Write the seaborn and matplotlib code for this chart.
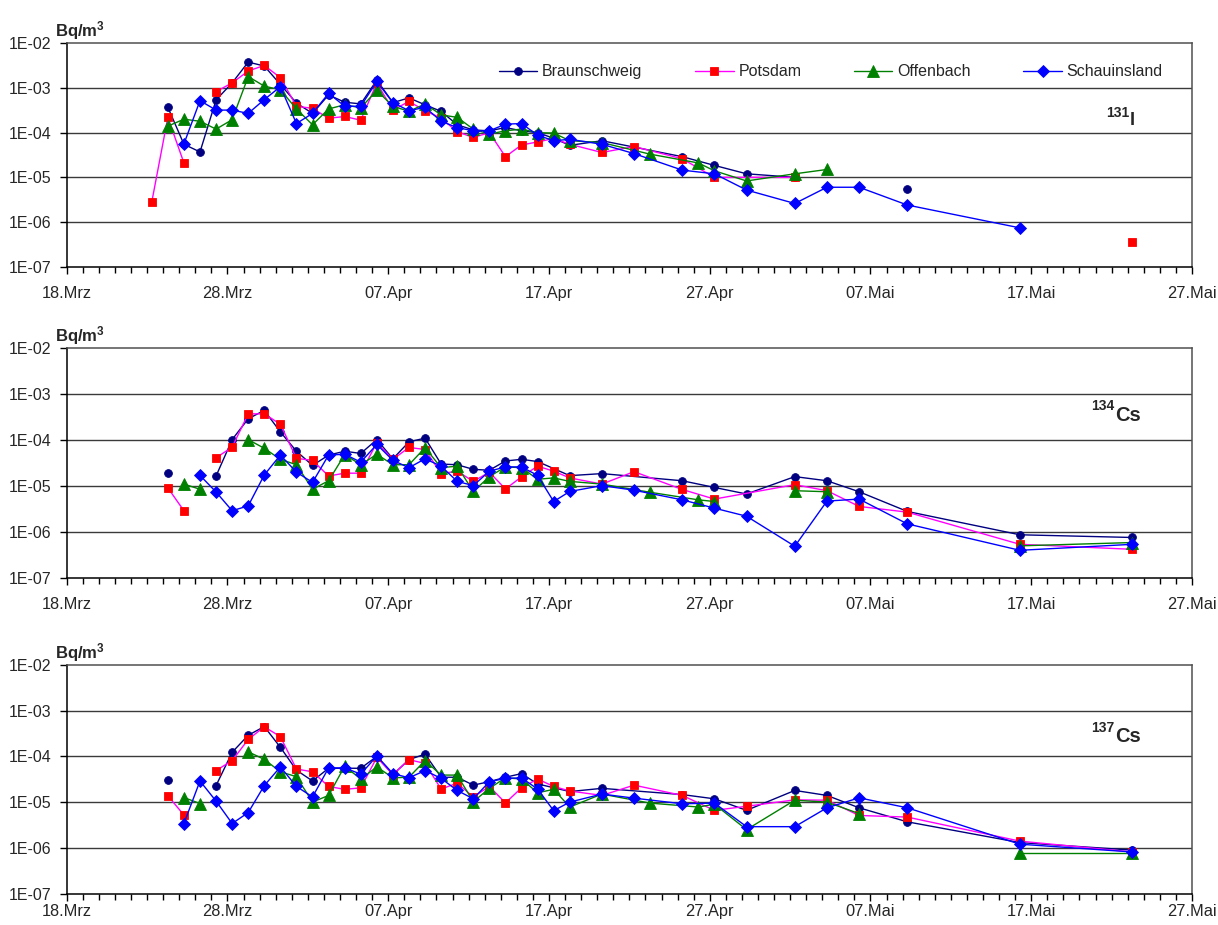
import numpy as np
import pandas as pd
import matplotlib
matplotlib.use("Agg")
import matplotlib.pyplot as plt
import matplotlib.dates as mdates
from matplotlib.lines import Line2D
from matplotlib.ticker import FixedLocator, NullLocator
import seaborn as sns

# ---------------------------------------------------------------------------
# Daily air activity concentrations (Bq/m3), spring 2011.
# Dates are "MM-DD"; a None value marks a day without a sample where the
# connecting line is interrupted.
# ---------------------------------------------------------------------------
YEAR = 2011

# ---- I-131 ----
I131_BS_DATES = ["03-24", "03-25", "03-26", "03-27", "03-28", "03-29", "03-30", "03-31",
                 "04-01", "04-02", "04-03", "04-04", "04-05", "04-06", "04-07", "04-08",
                 "04-09", "04-10", "04-11", "04-12", "04-13", "04-14", "04-15", "04-16",
                 "04-17", "04-18", "04-20", "04-25", "04-27", "04-29", "05-02", "05-04",
                 "05-09"]
I131_BS = [3.7e-4, 5.5e-5, 3.7e-5, 5.4e-4, 1.3e-3, 3.8e-3, 3.1e-3, 1.2e-3,
           4.6e-4, 2.7e-4, 7.0e-4, 4.8e-4, 4.4e-4, 1.5e-3, 4.7e-4, 6.0e-4,
           4.2e-4, 3.0e-4, 1.5e-4, 1.15e-4, 1.1e-4, 1.3e-4, 1.1e-4, 1.0e-4,
           7.5e-5, 5.2e-5, 6.6e-5, 2.9e-5, 1.85e-5, 1.2e-5, 1.0e-5, None,
           5.4e-6]

I131_PD_DATES = ["03-23", "03-24", "03-25", "03-26", "03-27", "03-28", "03-29", "03-30",
                 "03-31", "04-01", "04-02", "04-03", "04-04", "04-05", "04-06", "04-07",
                 "04-08", "04-09", "04-10", "04-11", "04-12", "04-13", "04-14", "04-15",
                 "04-16", "04-17", "04-18", "04-20", "04-22", "04-25", "04-27", "05-02",
                 "05-04", "05-23"]
I131_PD = [2.8e-6, 2.2e-4, 2.1e-5, None, 8.3e-4, 1.3e-3, 2.4e-3, 3.2e-3,
           1.7e-3, 3.9e-4, 3.5e-4, 2.1e-4, 2.3e-4, 1.9e-4, 1.3e-3, 3.2e-4,
           5.0e-4, 3.1e-4, 2.1e-4, 1.05e-4, 7.8e-5, 1.0e-4, 2.9e-5, 5.3e-5,
           6.2e-5, 7.4e-5, 5.5e-5, 3.6e-5, 4.9e-5, 2.6e-5, 1.0e-5, 1.0e-5,
           None, 3.5e-7]

I131_OF_DATES = ["03-24", "03-25", "03-26", "03-27", "03-28", "03-29", "03-30", "03-31",
                 "04-01", "04-02", "04-03", "04-04", "04-05", "04-06", "04-07", "04-08",
                 "04-09", "04-10", "04-11", "04-12", "04-13", "04-14", "04-15", "04-16",
                 "04-17", "04-18", "04-20", "04-23", "04-26", "04-27", "04-29", "05-02",
                 "05-04"]
I131_OF = [1.4e-4, 2.0e-4, 1.8e-4, 1.2e-4, 1.95e-4, 1.8e-3, 1.1e-3, 9.1e-4,
           3.4e-4, 1.5e-4, 3.4e-4, 4.2e-4, 3.6e-4, 8.8e-4, 3.9e-4, 3.0e-4,
           4.4e-4, 2.5e-4, 2.2e-4, 1.2e-4, 9.3e-5, 1.1e-4, 1.2e-4, 1.0e-4,
           9.8e-5, 6.6e-5, 6.0e-5, 3.3e-5, 2.1e-5, 1.4e-5, 8.3e-6, 1.2e-5,
           1.5e-5]

I131_SL_DATES = ["03-25", "03-26", "03-27", "03-28", "03-29", "03-30", "03-31", "04-01",
                 "04-02", "04-03", "04-04", "04-05", "04-06", "04-07", "04-08", "04-09",
                 "04-10", "04-11", "04-12", "04-13", "04-14", "04-15", "04-16", "04-17",
                 "04-18", "04-20", "04-22", "04-25", "04-27", "04-29", "05-02", "05-04",
                 "05-06", "05-09", "05-16"]
I131_SL = [5.6e-5, 5.2e-4, 3.2e-4, 3.2e-4, 2.7e-4, 5.5e-4, 1.07e-3, 1.6e-4,
           2.7e-4, 7.6e-4, 3.9e-4, 3.9e-4, 1.4e-3, 4.7e-4, 3.1e-4, 3.7e-4,
           1.8e-4, 1.3e-4, 1.1e-4, 1.1e-4, 1.55e-4, 1.6e-4, 8.8e-5, 6.6e-5,
           7.1e-5, 5.5e-5, 3.4e-5, 1.45e-5, 1.2e-5, 5.2e-6, 2.6e-6, 6.0e-6,
           6.0e-6, 2.4e-6, 7.4e-7]

# ---- Cs-134 ----
CS134_BS_DATES = ["03-24", "03-25", "03-27", "03-28", "03-29", "03-30", "03-31", "04-01",
                  "04-02", "04-03", "04-04", "04-05", "04-06", "04-07", "04-08", "04-09",
                  "04-10", "04-11", "04-12", "04-13", "04-14", "04-15", "04-16", "04-18",
                  "04-20", "04-25", "04-27", "04-29", "05-02", "05-04", "05-06", "05-09",
                  "05-16", "05-23"]
CS134_BS = [1.9e-5, None, 1.65e-5, 1.02e-4, 2.9e-4, 4.4e-4, 1.5e-4, 5.7e-5,
            2.8e-5, 4.7e-5, 5.7e-5, 5.1e-5, 1.02e-4, 3.9e-5, 9.1e-5, 1.1e-4,
            3.0e-5, 2.9e-5, 2.3e-5, 2.2e-5, 3.5e-5, 3.8e-5, 3.4e-5, 1.68e-5,
            1.86e-5, 1.3e-5, 9.3e-6, 6.7e-6, 1.6e-5, 1.3e-5, 7.5e-6, 2.8e-6,
            8.7e-7, 7.6e-7]

CS134_PD_DATES = ["03-24", "03-25", "03-26", "03-27", "03-28", "03-29", "03-30", "03-31",
                  "04-01", "04-02", "04-03", "04-04", "04-05", "04-06", "04-07", "04-08",
                  "04-09", "04-10", "04-11", "04-12", "04-13", "04-14", "04-15", "04-16",
                  "04-17", "04-18", "04-20", "04-22", "04-25", "04-27", "05-02", "05-04",
                  "05-06", "05-09", "05-16", "05-23"]
CS134_PD = [9.1e-6, 2.9e-6, None, 4.1e-5, 7.0e-5, 3.7e-4, 3.7e-4, 2.2e-4,
            4.0e-5, 3.6e-5, 1.65e-5, 1.9e-5, 1.9e-5, 8.7e-5, 3.8e-5, 6.9e-5,
            6.2e-5, 1.86e-5, 2.1e-5, 1.26e-5, 2.0e-5, 8.6e-6, 1.58e-5, 2.7e-5,
            2.1e-5, 1.5e-5, 1.1e-5, 2.05e-5, 8.4e-6, 5.2e-6, 1.07e-5, 7.9e-6,
            3.6e-6, 2.7e-6, 5.4e-7, 4.2e-7]

CS134_OF_DATES = ["03-25", "03-26", "03-27", "03-29", "03-30", "03-31", "04-01", "04-02",
                  "04-03", "04-04", "04-05", "04-06", "04-07", "04-08", "04-09", "04-10",
                  "04-11", "04-12", "04-13", "04-14", "04-15", "04-16", "04-17", "04-18",
                  "04-20", "04-23", "04-26", "04-27", "04-29", "05-02", "05-04", "05-06",
                  "05-16", "05-23"]
CS134_OF = [1.1e-5, 8.5e-6, None, 1.02e-4, 6.6e-5, 3.8e-5, 2.9e-5, 8.5e-6,
            1.3e-5, 4.8e-5, 2.9e-5, 4.9e-5, 2.9e-5, 2.9e-5, 6.8e-5, 2.5e-5,
            2.7e-5, 7.6e-6, 1.6e-5, 2.6e-5, 2.5e-5, 1.4e-5, 1.5e-5, 1.26e-5,
            1.1e-5, 7.3e-6, 5.0e-6, 4.6e-6, None, 7.9e-6, 7.5e-6, None,
            5.0e-7, 5.9e-7]

CS134_SL_DATES = ["03-26", "03-27", "03-28", "03-29", "03-30", "03-31", "04-01", "04-02",
                  "04-03", "04-04", "04-05", "04-06", "04-07", "04-08", "04-09", "04-10",
                  "04-11", "04-12", "04-13", "04-14", "04-15", "04-16", "04-17", "04-18",
                  "04-20", "04-22", "04-25", "04-27", "04-29", "05-02", "05-04", "05-06",
                  "05-09", "05-16", "05-23"]
CS134_SL = [1.7e-5, 7.4e-6, 2.9e-6, 3.7e-6, 1.74e-5, 4.7e-5, 2.0e-5, 1.2e-5,
            4.7e-5, 4.9e-5, 3.3e-5, 8.0e-5, 3.6e-5, 2.5e-5, 3.9e-5, 2.7e-5,
            1.26e-5, 1.02e-5, 2.1e-5, 2.6e-5, 2.6e-5, 1.7e-5, 4.6e-6, 7.6e-6,
            1.02e-5, 8.1e-6, 5.0e-6, 3.3e-6, 2.2e-6, 4.9e-7, 4.7e-6, 5.2e-6,
            1.5e-6, 4.0e-7, 5.4e-7]

# ---- Cs-137 ----
CS137_BS_DATES = ["03-24", "03-25", "03-27", "03-28", "03-29", "03-30", "03-31", "04-01",
                  "04-02", "04-03", "04-04", "04-05", "04-06", "04-07", "04-08", "04-09",
                  "04-10", "04-11", "04-12", "04-13", "04-14", "04-15", "04-16", "04-18",
                  "04-20", "04-25", "04-27", "04-29", "05-02", "05-04", "05-06", "05-09",
                  "05-16", "05-23"]
CS137_BS = [3.0e-5, None, 2.3e-5, 1.23e-4, 2.9e-4, 4.5e-4, 1.58e-4, 5.0e-5,
            2.9e-5, 5.5e-5, 5.5e-5, 5.5e-5, 1.0e-4, 4.0e-5, 8.5e-5, 1.12e-4,
            3.5e-5, 3.5e-5, 2.35e-5, 2.8e-5, 3.5e-5, 4.2e-5, 2.5e-5, 1.7e-5,
            2.0e-5, 1.46e-5, 1.18e-5, 6.6e-6, 1.8e-5, 1.4e-5, 7.5e-6, 3.7e-6,
            1.3e-6, 8.9e-7]

CS137_PD_DATES = ["03-24", "03-25", "03-26", "03-27", "03-28", "03-29", "03-30", "03-31",
                  "04-01", "04-02", "04-03", "04-04", "04-05", "04-06", "04-07", "04-08",
                  "04-09", "04-10", "04-11", "04-12", "04-13", "04-14", "04-15", "04-16",
                  "04-17", "04-18", "04-20", "04-22", "04-25", "04-27", "04-29", "05-02",
                  "05-04", "05-06", "05-09", "05-16", "05-23"]
CS137_PD = [1.38e-5, 5.2e-6, None, 4.9e-5, 8.1e-5, 2.35e-4, 4.45e-4, 2.7e-4,
            5.3e-5, 4.6e-5, 2.2e-5, 1.9e-5, 2.05e-5, 9.5e-5, 4.0e-5, 8.5e-5,
            7.0e-5, 1.93e-5, 2.6e-5, 1.3e-5, 2.2e-5, 9.6e-6, 2.05e-5, 3.2e-5,
            2.2e-5, 1.75e-5, 1.4e-5, 2.35e-5, 1.4e-5, 6.6e-6, 8.1e-6, 1.12e-5,
            1.1e-5, 5.1e-6, 4.7e-6, 1.4e-6, 8.1e-7]

CS137_OF_DATES = ["03-25", "03-26", "03-27", "03-29", "03-30", "03-31", "04-01", "04-02",
                  "04-03", "04-04", "04-05", "04-06", "04-07", "04-08", "04-09", "04-10",
                  "04-11", "04-12", "04-13", "04-14", "04-15", "04-16", "04-17", "04-18",
                  "04-20", "04-23", "04-26", "04-27", "04-29", "05-02", "05-04", "05-06",
                  "05-09", "05-16", "05-23"]
CS137_OF = [1.26e-5, 9.3e-6, None, 1.26e-4, 8.6e-5, 4.6e-5, 3.6e-5, 1.0e-5,
            1.4e-5, 6.1e-5, 3.2e-5, 5.9e-5, 3.4e-5, 3.5e-5, 8.1e-5, 3.9e-5,
            3.9e-5, 1.02e-5, 2.0e-5, 3.4e-5, 3.2e-5, 1.6e-5, 1.9e-5, 7.8e-6,
            1.5e-5, 9.5e-6, 7.8e-6, 9.0e-6, 2.5e-6, 1.1e-5, 1.0e-5, 5.6e-6,
            None, 7.7e-7, 7.7e-7]

CS137_SL_DATES = ["03-25", "03-26", "03-27", "03-28", "03-29", "03-30", "03-31", "04-01",
                  "04-02", "04-03", "04-04", "04-05", "04-06", "04-07", "04-08", "04-09",
                  "04-10", "04-11", "04-12", "04-13", "04-14", "04-15", "04-16", "04-17",
                  "04-18", "04-20", "04-22", "04-25", "04-27", "04-29", "05-02", "05-04",
                  "05-06", "05-09", "05-16", "05-23"]
CS137_SL = [3.4e-6, 2.9e-5, 1.05e-5, 3.4e-6, 5.9e-6, 2.3e-5, 5.9e-5, 2.2e-5,
            1.3e-5, 5.6e-5, 5.6e-5, 4.1e-5, 1.02e-4, 4.2e-5, 3.4e-5, 4.9e-5,
            3.3e-5, 1.8e-5, 1.18e-5, 2.8e-5, 3.3e-5, 3.4e-5, 1.93e-5, 6.5e-6,
            1.0e-5, 1.5e-5, 1.22e-5, 9.2e-6, 9.5e-6, 2.9e-6, 2.9e-6, 7.5e-6,
            1.24e-5, 7.5e-6, 1.2e-6, 8.1e-7]

STATIONS = ["Braunschweig", "Potsdam", "Offenbach", "Schauinsland"]
NUCLIDE_SUPERSCRIPTS = ["131", "134", "137"]
NUCLIDE_SYMBOLS = ["I", "Cs", "Cs"]

X_TICK_DATES = ["03-18", "03-28", "04-07", "04-17", "04-27", "05-07", "05-17", "05-27"]
X_TICK_LABELS = ["18.Mrz", "28.Mrz", "07.Apr", "17.Apr", "27.Apr", "07.Mai", "17.Mai", "27.Mai"]
Y_TICKS = [1e-7, 1e-6, 1e-5, 1e-4, 1e-3, 1e-2]
Y_TICK_LABELS = ["1E-07", "1E-06", "1E-05", "1E-04", "1E-03", "1E-02"]
UNIT_LABEL = r"$\mathbf{Bq/m^3}$"

PANELS = [
    [(I131_BS_DATES, I131_BS), (I131_PD_DATES, I131_PD),
     (I131_OF_DATES, I131_OF), (I131_SL_DATES, I131_SL)],
    [(CS134_BS_DATES, CS134_BS), (CS134_PD_DATES, CS134_PD),
     (CS134_OF_DATES, CS134_OF), (CS134_SL_DATES, CS134_SL)],
    [(CS137_BS_DATES, CS137_BS), (CS137_PD_DATES, CS137_PD),
     (CS137_OF_DATES, CS137_OF), (CS137_SL_DATES, CS137_SL)],
]

# ---------------------------------------------------------------------------
# Styling
# ---------------------------------------------------------------------------
sns.set_style("white")
plt.rcParams["font.family"] = ["Liberation Sans", "DejaVu Sans"]
plt.rcParams["mathtext.fontset"] = "custom"
plt.rcParams["mathtext.rm"] = "Liberation Sans"
plt.rcParams["mathtext.bf"] = "Liberation Sans:bold"
plt.rcParams["mathtext.it"] = "Liberation Sans:italic"

STYLES = {
    "Braunschweig": dict(color="#000080", marker="o", markersize=5.6,
                         markerfacecolor="#000080", markeredgecolor="#000080"),
    "Potsdam": dict(color="#FF00FF", marker="s", markersize=5.6,
                    markerfacecolor="#FF0000", markeredgecolor="#FF0000"),
    "Offenbach": dict(color="#008000", marker="^", markersize=9.0,
                      markerfacecolor="#008000", markeredgecolor="#008000"),
    "Schauinsland": dict(color="#0000FF", marker="D", markersize=6.6,
                         markerfacecolor="#0000FF", markeredgecolor="#0000FF"),
}
LINE_WIDTH = 1.0
SAMPLE_TIME = pd.Timedelta(hours=7)


def to_time(mmdd):
    return pd.Timestamp(f"{YEAR}-{mmdd}")


def series_frame(dates, values):
    """Turn a station series into rows with a segment id; None starts a new segment."""
    rows, seg = [], 0
    for d, v in zip(dates, values):
        if v is None:
            seg += 1
            continue
        rows.append({"date": to_time(d) + SAMPLE_TIME, "value": v, "seg": seg})
    return pd.DataFrame(rows)


W, H = 1218, 925
fig = plt.figure(figsize=(W / 100, H / 100), dpi=100)

ax_left = 66.7 / W
ax_width = (1192 - 66.7) / W
panel_px = [(43.3, 266.7), (348.0, 578.0), (665.0, 893.5)]
label_pos = [(0.945, 0.634), (0.9316, 0.683), (0.9316, 0.663)]
x_label_pad = [9, 9, 2.5]

x_ticks = [mdates.date2num(to_time(d)) for d in X_TICK_DATES]

for i, (panel, (top_px, bot_px)) in enumerate(zip(PANELS, panel_px)):
    ax = fig.add_axes([ax_left, 1 - bot_px / H, ax_width, (bot_px - top_px) / H])
    ax.set_yscale("log")

    for station, (dates, values) in zip(STATIONS, panel):
        df = series_frame(dates, values)
        sns.lineplot(data=df, x="date", y="value", units="seg", estimator=None,
                     sort=True, linewidth=LINE_WIDTH, markeredgewidth=0.6,
                     legend=False, ax=ax, **STYLES[station])

    ax.set_ylim(Y_TICKS[0], Y_TICKS[-1])
    ax.set_xlim(to_time(X_TICK_DATES[0]), to_time(X_TICK_DATES[-1]))

    ax.yaxis.set_major_locator(FixedLocator(Y_TICKS))
    ax.yaxis.set_minor_locator(NullLocator())
    ax.set_yticklabels(Y_TICK_LABELS)
    ax.xaxis.set_major_locator(FixedLocator(x_ticks))
    ax.xaxis.set_minor_locator(mdates.DayLocator())
    ax.set_xticklabels(X_TICK_LABELS)

    ax.set_xlabel("")
    ax.set_ylabel("")
    ax.grid(False)
    for v in Y_TICKS[1:-1]:
        ax.axhline(v, color="#3a3a3a", linewidth=1.0, zorder=0.5)

    for side in ("left", "bottom"):
        ax.spines[side].set_color("black")
        ax.spines[side].set_linewidth(1.1)
    for side in ("top", "right"):
        ax.spines[side].set_color("#505050")
        ax.spines[side].set_linewidth(1.1)

    ax.tick_params(axis="x", which="major", direction="out", length=5, width=1,
                   color="black", labelsize=11.8, pad=x_label_pad[i], bottom=True)
    ax.tick_params(axis="x", which="minor", direction="out", length=4, width=1,
                   color="black", bottom=True)
    ax.tick_params(axis="y", which="major", direction="out", length=5, width=1,
                   color="black", labelsize=11.5, pad=6, left=True)

    # unit label above the value axis
    ax.annotate(UNIT_LABEL, xy=(0, 1), xycoords="axes fraction",
                xytext=(-8.5, 5), textcoords="offset points",
                ha="left", va="baseline", fontsize=12, fontweight="bold")

    # nuclide label
    lx, ly = label_pos[i]
    big = 13 if NUCLIDE_SYMBOLS[i] == "I" else 14.5
    ax.text(lx, ly, NUCLIDE_SYMBOLS[i], transform=ax.transAxes, ha="left",
            va="baseline", fontsize=big, fontweight="bold")
    ax.annotate(NUCLIDE_SUPERSCRIPTS[i], xy=(lx, ly), xycoords="axes fraction",
                xytext=(-0.5, 6 if i == 0 else 7.5), textcoords="offset points",
                ha="right", va="baseline", fontsize=10, fontweight="bold")

    if i == 0:
        handles = [Line2D([0], [0], linewidth=LINE_WIDTH, markeredgewidth=0.6,
                          **STYLES[s]) for s in STATIONS]
        ax.legend(handles, STATIONS, loc="center", bbox_to_anchor=(0.679, 0.872),
                  ncol=4, frameon=False, fontsize=11.5, handlelength=2.4,
                  columnspacing=3.3, handletextpad=0.3)

fig.savefig("out.png", dpi=100)
